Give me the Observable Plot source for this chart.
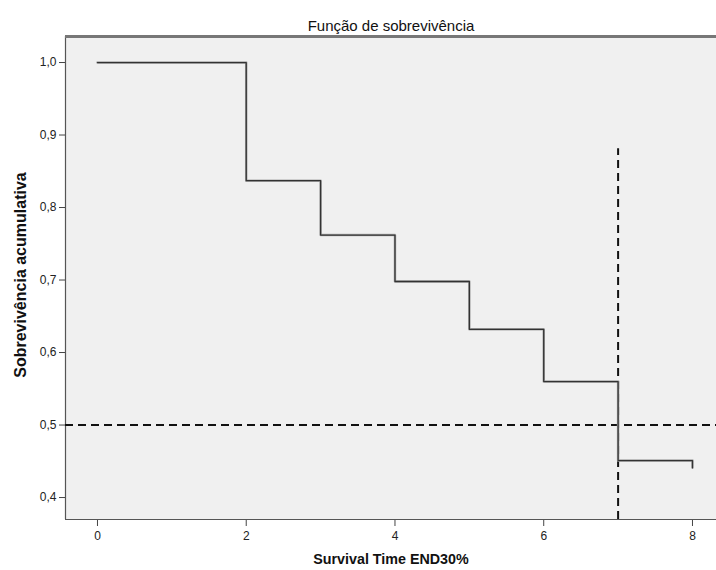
<!DOCTYPE html>
<html>
<head>
<meta charset="utf-8">
<script src="https://cdn.jsdelivr.net/npm/d3@7"></script>
<script src="https://cdn.jsdelivr.net/npm/@observablehq/plot@0.6"></script>
<style>
  html, body { margin: 0; padding: 0; background: #fff; }
</style>
</head>
<body>
<div id="chart"></div>
<script>
const title = "Função de sobrevivência";
const xLabel = "Survival Time END30%";
const yLabel = "Sobrevivência acumulativa";

const stepTimes = [0, 2, 3, 4, 5, 6, 7, 8, 8];
const stepSurv  = [1.0, 0.837, 0.762, 0.698, 0.632, 0.560, 0.451, 0.451, 0.441];

const xTicks = [0, 2, 4, 6, 8];
const yTicks = [0.4, 0.5, 0.6, 0.7, 0.8, 0.9, 1.0];

const medianTime = 7;
const medianLineTop = 0.881;
const medianSurv = 0.5;

const xDomain = [-0.43, 8.323];
const yDomain = [0.3697, 1.0359];

const curve = stepTimes.map((t, i) => ({t, s: stepSurv[i]}));

const chart = Plot.plot({
  width: 716,
  height: 570,
  marginLeft: 65,
  marginRight: 0,
  marginTop: 36,
  marginBottom: 51,
  style: {fontFamily: "'Liberation Sans', Arial, sans-serif", background: "#fff", color: "#222", overflow: "visible"},
  x: {domain: xDomain, label: null},
  y: {domain: yDomain, label: null},
  marks: [
    Plot.frame({fill: "#f0f0f0", stroke: null}),
    Plot.axisX({ticks: xTicks, tickSize: 7, tickPadding: 5, fontSize: 12, stroke: "#444", label: null, tickFormat: d => String(d)}),
    Plot.axisY({ticks: yTicks, tickSize: 6, tickPadding: 3, fontSize: 12, stroke: "#444", label: null, tickFormat: d => d.toFixed(1).replace(".", ",")}),
    Plot.ruleY([yDomain[0]], {stroke: "#555", strokeWidth: 1.2}),
    Plot.ruleX([xDomain[0]], {stroke: "#555", strokeWidth: 1.2}),
    Plot.ruleY([yDomain[1]], {stroke: "#777", strokeWidth: 3}),
    Plot.ruleY([medianSurv], {stroke: "#111", strokeWidth: 2, strokeDasharray: "8,5"}),
    Plot.ruleX([medianTime], {y1: yDomain[0], y2: medianLineTop, stroke: "#111", strokeWidth: 2, strokeDasharray: "8,5"}),
    Plot.line(curve, {x: "t", y: "s", curve: "step-after", stroke: "#aaa", strokeWidth: 2.5}),
    Plot.line(curve, {x: "t", y: "s", curve: "step-after", stroke: "#333", strokeWidth: 1.3}),
    Plot.text([title], {frameAnchor: "top", dy: -16, fontSize: 15, fill: "#111"}),
    Plot.text([xLabel], {frameAnchor: "bottom", dy: 44, fontSize: 14.3, fontWeight: "bold", fill: "#111"}),
    Plot.text([yLabel], {frameAnchor: "left", textAnchor: "middle", dx: -45, dy: -3, rotate: -90, fontSize: 16, fontWeight: "bold", fill: "#111", letterSpacing: "0.5px"})
  ]
});
document.getElementById("chart").append(chart);
</script>
</body>
</html>
